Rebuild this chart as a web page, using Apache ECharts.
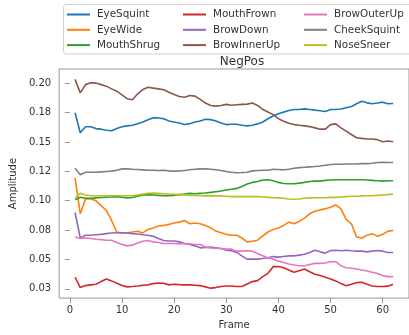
<!DOCTYPE html>
<html>
<head>
<meta charset="utf-8">
<script src="https://cdn.jsdelivr.net/npm/echarts@6/dist/echarts.min.js"></script>
<style>
  html, body { margin: 0; padding: 0; background: #fff; }
  #chart { width: 409px; height: 335px; }
</style>
</head>
<body>
<div id="chart"></div>
<script>
// Blendshape amplitudes per frame (frames 1..62)
const frames = Array.from({ length: 62 }, (_, i) => i + 1);

const eyeSquint = [0.1749,0.1578,0.1629,0.1629,0.1614,0.1609,0.1600,0.1595,0.1614,0.1629,
  0.1637,0.1642,0.1656,0.1670,0.1690,0.1707,0.1704,0.1698,0.1679,0.1670,
  0.1662,0.1648,0.1656,0.1670,0.1679,0.1693,0.1690,0.1679,0.1662,0.1648,
  0.1651,0.1651,0.1642,0.1637,0.1642,0.1654,0.1670,0.1698,0.1721,0.1741,
  0.1754,0.1768,0.1777,0.1777,0.1782,0.1777,0.1771,0.1766,0.1760,0.1777,
  0.1777,0.1780,0.1791,0.1802,0.1825,0.1847,0.1833,0.1825,0.1831,0.1839,
  0.1825,0.1828];

const eyeWide = [0.1195,0.0889,0.1015,0.1015,0.1001,0.0959,0.0917,0.0832,0.0734,0.0726,
  0.0726,0.0734,0.0740,0.0726,0.0756,0.0768,0.0785,0.0790,0.0799,0.0810,
  0.0818,0.0832,0.0804,0.0810,0.0804,0.0790,0.0771,0.0742,0.0728,0.0714,
  0.0706,0.0706,0.0683,0.0650,0.0655,0.0664,0.0700,0.0734,0.0756,0.0768,
  0.0790,0.0818,0.0804,0.0824,0.0852,0.0889,0.0911,0.0922,0.0931,0.0945,
  0.0965,0.0931,0.0841,0.0804,0.0692,0.0683,0.0706,0.0720,0.0697,0.0714,
  0.0740,0.0748];

const mouthShrug = [0.1007,0.1030,0.1021,0.1021,0.1024,0.1027,0.1030,0.1032,0.1035,0.1030,
  0.1024,0.1027,0.1038,0.1049,0.1052,0.1049,0.1046,0.1043,0.1043,0.1046,
  0.1052,0.1057,0.1063,0.1060,0.1063,0.1066,0.1071,0.1077,0.1083,0.1091,
  0.1098,0.1105,0.1122,0.1142,0.1156,0.1164,0.1176,0.1178,0.1170,0.1156,
  0.1147,0.1145,0.1145,0.1150,0.1156,0.1164,0.1167,0.1167,0.1173,0.1176,
  0.1178,0.1178,0.1178,0.1178,0.1178,0.1178,0.1176,0.1173,0.1170,0.1167,
  0.1170,0.1170];

const mouthFrown = [0.0349,0.0261,0.0278,0.0284,0.0289,0.0312,0.0334,0.0318,0.0298,0.0278,
  0.0267,0.0270,0.0275,0.0281,0.0284,0.0295,0.0300,0.0298,0.0284,0.0289,
  0.0286,0.0284,0.0284,0.0281,0.0278,0.0267,0.0256,0.0261,0.0270,0.0275,
  0.0275,0.0270,0.0270,0.0292,0.0312,0.0320,0.0354,0.0382,0.0439,0.0441,
  0.0430,0.0410,0.0391,0.0405,0.0419,0.0396,0.0374,0.0363,0.0349,0.0334,
  0.0318,0.0295,0.0276,0.0289,0.0303,0.0306,0.0289,0.0275,0.0270,0.0270,
  0.0273,0.0289];

const browDown = [0.0900,0.0683,0.0706,0.0706,0.0711,0.0714,0.0720,0.0725,0.0728,0.0728,
  0.0725,0.0720,0.0717,0.0711,0.0706,0.0697,0.0678,0.0661,0.0658,0.0658,
  0.0650,0.0636,0.0627,0.0616,0.0599,0.0602,0.0605,0.0599,0.0593,0.0579,
  0.0575,0.0560,0.0531,0.0503,0.0503,0.0503,0.0509,0.0515,0.0526,0.0520,
  0.0526,0.0531,0.0531,0.0537,0.0545,0.0560,0.0579,0.0565,0.0554,0.0577,
  0.0579,0.0574,0.0579,0.0574,0.0571,0.0571,0.0565,0.0571,0.0577,0.0571,
  0.0560,0.0560];

const browInnerUp = [0.2033,0.1918,0.1988,0.2003,0.2001,0.1988,0.1975,0.1952,0.1932,0.1901,
  0.1868,0.1859,0.1910,0.1946,0.1966,0.1958,0.1952,0.1944,0.1924,0.1904,
  0.1887,0.1881,0.1896,0.1890,0.1862,0.1831,0.1811,0.1805,0.1811,0.1820,
  0.1812,0.1817,0.1820,0.1822,0.1831,0.1811,0.1777,0.1755,0.1733,0.1699,
  0.1676,0.1659,0.1648,0.1642,0.1637,0.1631,0.1620,0.1609,0.1609,0.1648,
  0.1654,0.1620,0.1592,0.1564,0.1536,0.1531,0.1525,0.1525,0.1520,0.1502,
  0.1508,0.1502];

const browOuterUp = [0.0692,0.0678,0.0683,0.0678,0.0672,0.0669,0.0664,0.0664,0.0644,0.0627,
  0.0616,0.0622,0.0641,0.0655,0.0661,0.0650,0.0644,0.0636,0.0636,0.0636,
  0.0633,0.0636,0.0633,0.0627,0.0627,0.0607,0.0599,0.0593,0.0593,0.0588,
  0.0588,0.0571,0.0571,0.0574,0.0571,0.0551,0.0531,0.0515,0.0503,0.0486,
  0.0475,0.0461,0.0453,0.0447,0.0447,0.0458,0.0467,0.0467,0.0470,0.0481,
  0.0481,0.0447,0.0430,0.0425,0.0419,0.0410,0.0402,0.0391,0.0380,0.0363,
  0.0354,0.0354];

const cheekSquint = [0.1277,0.1221,0.1243,0.1243,0.1243,0.1246,0.1249,0.1252,0.1260,0.1271,
  0.1271,0.1268,0.1266,0.1263,0.1260,0.1260,0.1257,0.1260,0.1254,0.1252,
  0.1254,0.1257,0.1263,0.1268,0.1271,0.1271,0.1268,0.1263,0.1257,0.1249,
  0.1243,0.1238,0.1240,0.1243,0.1254,0.1257,0.1260,0.1260,0.1268,0.1266,
  0.1263,0.1268,0.1277,0.1282,0.1285,0.1288,0.1291,0.1296,0.1302,0.1308,
  0.1310,0.1310,0.1313,0.1313,0.1313,0.1316,0.1316,0.1319,0.1325,0.1327,
  0.1325,0.1325];

const noseSneer = [0.1021,0.1063,0.1049,0.1043,0.1043,0.1043,0.1043,0.1043,0.1043,0.1043,
  0.1043,0.1043,0.1049,0.1057,0.1063,0.1066,0.1063,0.1060,0.1057,0.1055,
  0.1052,0.1049,0.1046,0.1046,0.1043,0.1041,0.1041,0.1041,0.1041,0.1038,
  0.1035,0.1035,0.1035,0.1035,0.1035,0.1035,0.1032,0.1029,0.1026,0.1024,
  0.1021,0.1015,0.1012,0.1015,0.1021,0.1024,0.1026,0.1026,0.1026,0.1029,
  0.1029,0.1032,0.1035,0.1038,0.1038,0.1041,0.1043,0.1043,0.1046,0.1049,
  0.1052,0.1057];

const seriesNames = ['EyeSquint','EyeWide','MouthShrug','MouthFrown','BrowDown','BrowInnerUp','BrowOuterUp','CheekSquint','NoseSneer'];
const seriesValues = [eyeSquint, eyeWide, mouthShrug, mouthFrown, browDown, browInnerUp, browOuterUp, cheekSquint, noseSneer];
const palette = ['#1f77b4','#ff7f0e','#2ca02c','#d62728','#9467bd','#8c564b','#e377c2','#7f7f7f','#bcbd22'];

const xTickValues = [0, 10, 20, 30, 40, 50, 60];
const yTickValues = [0.025, 0.05, 0.075, 0.1, 0.125, 0.15, 0.175, 0.2];
const yTickLabels = ['0.03','0.05','0.08','0.10','0.12','0.15','0.18','0.20'];

const FONT = 'DejaVu Sans';
const TEXT = '#333';
const SPINE = '#999';

const chart = echarts.init(document.getElementById('chart'), null, { renderer: 'canvas' });

// Legend laid out as three vertical columns, each item a plain line swatch
function legendColumn(names, left) {
  return {
    orient: 'vertical',
    left: left,
    top: 8.5,
    padding: 0,
    icon: 'rect',
    itemWidth: 23,
    itemHeight: 2,
    itemGap: 3.3,
    z: 10,
    data: names,
    textStyle: { fontFamily: FONT, fontSize: 10.4, color: TEXT, lineHeight: 12, padding: [0, 0, 0, 2] }
  };
}

const option = {
  backgroundColor: '#fff',
  animation: false,
  color: palette,
  title: {
    text: 'NegPos',
    left: 237,
    top: 51,
    textAlign: 'center',
    z: 1,
    textStyle: { fontFamily: FONT, fontSize: 12, fontWeight: 'normal', color: TEXT }
  },
  graphic: [{
    type: 'rect',
    shape: { x: 63.5, y: 4.5, width: 360, height: 49.5, r: 3 },
    style: { fill: 'rgba(255,255,255,0.85)', stroke: '#d0d0d0', lineWidth: 1 },
    z: 5
  }],
  legend: [
    legendColumn(seriesNames.slice(0, 3), 67),
    legendColumn(seriesNames.slice(3, 6), 183),
    legendColumn(seriesNames.slice(6, 9), 304)
  ],
  grid: {
    left: 57.5, top: 69, bottom: 35, right: -7.6,
    show: true, borderColor: SPINE, borderWidth: 1, backgroundColor: 'transparent'
  },
  xAxis: {
    type: 'value',
    min: -2.05,
    max: 65.05,
    name: 'Frame',
    nameLocation: 'middle',
    nameGap: 21,
    nameTextStyle: { fontFamily: FONT, fontSize: 10, color: TEXT },
    axisLine: { show: false },
    axisTick: { show: true, length: 5, lineStyle: { color: SPINE }, customValues: xTickValues },
    axisLabel: { fontFamily: FONT, fontSize: 10, color: TEXT, margin: 7, customValues: xTickValues },
    splitLine: { show: false }
  },
  yAxis: {
    type: 'value',
    min: 0.01715,
    max: 0.2121,
    name: 'Amplitude',
    nameLocation: 'middle',
    nameGap: 35,
    nameTextStyle: { fontFamily: FONT, fontSize: 10, color: TEXT },
    axisLine: { show: false },
    axisTick: { show: true, length: 5, lineStyle: { color: SPINE }, customValues: yTickValues },
    axisLabel: {
      fontFamily: FONT, fontSize: 10, color: TEXT, margin: 8,
      customValues: yTickValues,
      formatter: function (v) {
        let best = 0;
        yTickValues.forEach((t, i) => { if (Math.abs(t - v) < Math.abs(yTickValues[best] - v)) best = i; });
        return yTickLabels[best];
      }
    },
    splitLine: { show: false }
  },
  series: seriesNames.map((name, i) => ({
    name: name,
    type: 'line',
    symbol: 'none',
    showSymbol: false,
    clip: true,
    lineStyle: { width: 1.6, color: palette[i] },
    itemStyle: { color: palette[i] },
    data: frames.map((f, k) => [f, seriesValues[i][k]])
  }))
};

chart.setOption(option);
</script>
</body>
</html>
